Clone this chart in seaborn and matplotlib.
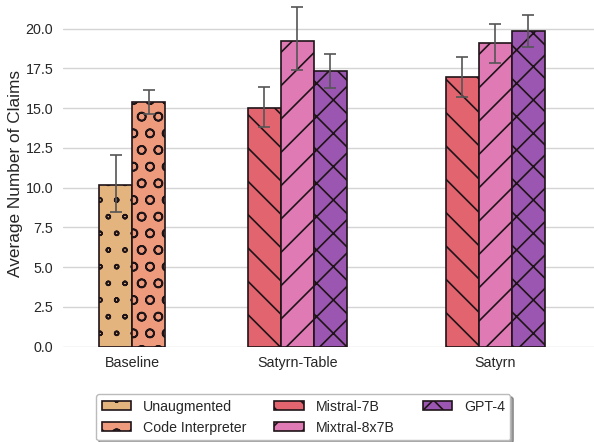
import matplotlib
matplotlib.use("Agg")
import matplotlib.pyplot as plt
import matplotlib.colors as mcolors
import matplotlib.hatch as mhatch
from matplotlib.patches import Patch
import numpy as np
import pandas as pd
import seaborn as sns

# ---------------- data ----------------
groups = ["Baseline", "Satyrn-Table", "Satyrn"]
methods = ["Unaugmented", "Code Interpreter", "Mistral-7B", "Mixtral-8x7B", "GPT-4"]
bar_group = ["Baseline", "Baseline",
             "Satyrn-Table", "Satyrn-Table", "Satyrn-Table",
             "Satyrn", "Satyrn", "Satyrn"]
bar_method = ["Unaugmented", "Code Interpreter",
              "Mistral-7B", "Mixtral-8x7B", "GPT-4",
              "Mistral-7B", "Mixtral-8x7B", "GPT-4"]
means = [10.14, 15.37, 15.03, 19.21, 17.36, 16.98, 19.10, 19.86]
ci_low = [8.44, 14.65, 13.83, 17.38, 16.27, 15.70, 17.82, 18.87]
ci_high = [12.03, 16.12, 16.31, 21.35, 18.43, 18.24, 20.26, 20.84]

# ---------------- style ----------------
colors = ["#E3B47E", "#EE9A7C", "#E2646F", "#E07AB5", "#9A56B0"]
hatches = ["o", "O", "\\", "/", "x"]
edge = "#1f1418"
group_centers = {"Baseline": 0.5, "Satyrn-Table": 5.5, "Satyrn": 11.5}

# smaller hatch circles, as in the reference rendering
mhatch.SmallCircles.size = 0.12
mhatch.LargeCircles.size = 0.25

sns.set_theme(style="whitegrid")
plt.rcParams["font.family"] = ["Liberation Sans", "DejaVu Sans"]
plt.rcParams["hatch.linewidth"] = 1.2
plt.rcParams["hatch.color"] = edge

# bar positions: bars of a group placed side by side around group center
pos = []
for g in groups:
    idx = [i for i, bg in enumerate(bar_group) if bg == g]
    n = len(idx)
    for k, i in enumerate(idx):
        pos.append((i, group_centers[g] + k - (n - 1) / 2))
pos = [p for _, p in sorted(pos)]

df = pd.DataFrame({"x": pos, "y": means, "method": bar_method})

fig = plt.figure(figsize=(5.94, 4.42), dpi=100)
ax = fig.add_axes([0.106, 0.2156, 0.894, 0.7844])

sns.barplot(data=df, x="x", y="y", hue="method", hue_order=methods,
            palette=colors, native_scale=True, dodge=False, width=1.0,
            saturation=1, errorbar=None, legend=False,
            edgecolor=edge, linewidth=1.2, ax=ax)

col_to_hatch = {mcolors.to_hex(c): h for c, h in zip(colors, hatches)}
for p in ax.patches:
    h = col_to_hatch.get(mcolors.to_hex(p.get_facecolor()[:3]))
    if h:
        p.set_hatch(h)
        p.set_edgecolor(edge)

yerr = np.array([np.array(means) - np.array(ci_low),
                 np.array(ci_high) - np.array(means)])
ax.errorbar(pos, means, yerr=yerr, fmt="none", ecolor="#555555",
            elinewidth=1.2, capsize=4.5, capthick=1.2, zorder=5)

ax.set_xlim(-1.6, 14.5)
ax.set_ylim(0, 21.8)
ax.set_xticks([group_centers[g] for g in groups], groups)
ax.set_yticks(np.arange(0, 20.1, 2.5))
ax.set_yticklabels([f"{v:.1f}" for v in np.arange(0, 20.1, 2.5)])
ax.tick_params(axis="both", labelsize=10.3, length=0, pad=7)
ax.set_xlabel("")
ax.set_ylabel("Average Number of Claims", fontsize=12.4, labelpad=1.5)
ax.grid(axis="x", visible=False)
ax.grid(axis="y", color="#d4d4d4", linewidth=1)
for s in ax.spines.values():
    s.set_visible(False)

handles = [Patch(facecolor=c, edgecolor=edge, hatch=h, linewidth=1.2, label=m)
           for c, h, m in zip(colors, hatches, methods)]
fig.legend(handles=handles, ncol=3, loc="upper left",
           bbox_to_anchor=(0.1616, 0.1086), borderaxespad=0,
           fontsize=10.2, frameon=True, shadow=True, fancybox=True,
           edgecolor="#bbbbbb", framealpha=1,
           handlelength=2.1, handleheight=0.55)

fig.savefig("out.png", dpi=100)
